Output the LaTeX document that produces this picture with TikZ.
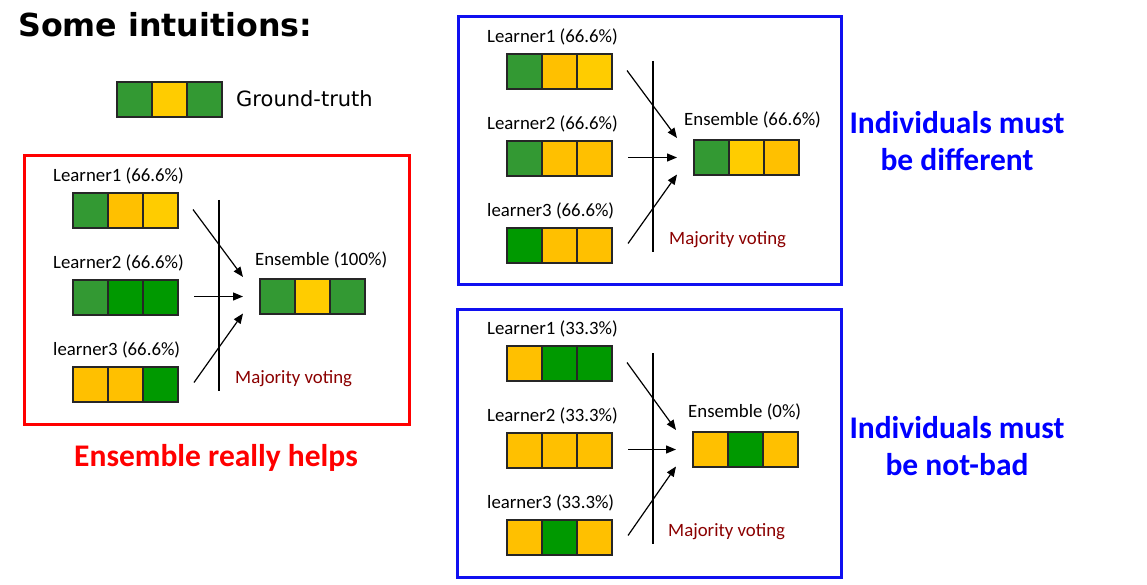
\documentclass[tikz,border=0pt]{standalone}
\usepackage{fontspec}
\setmainfont{Carlito}
\newfontfamily\headfont{DejaVu Sans}
\usetikzlibrary{arrows.meta,calc,positioning}

\definecolor{gtgreen}{HTML}{339933}
\definecolor{puregreen}{HTML}{009900}
\definecolor{amber}{HTML}{FFC000}
\definecolor{gold}{HTML}{FFCC00}
\definecolor{votered}{HTML}{8B0000}
\definecolor{panelblue}{HTML}{1010F0}

\tikzset{
  cell/.style={draw=black!85, line width=1.3pt, minimum size=35pt, inner sep=0pt, outer sep=0pt},
  lab/.style={font=\fontsize{18.8}{20}\selectfont, anchor=west, inner sep=0pt},
  votelab/.style={lab, text=votered},
  vote/.style={-{Triangle[length=10pt,width=8pt]}, line width=1.2pt},
  panel/.style={line width=3pt},
  big/.style={font=\fontsize{31.5}{37}\selectfont\bfseries, align=center, inner sep=0pt},
}

% three cells in a row: name, north west corner, colours
\newcommand{\votebar}[5]{%
  \node[cell, fill=#3, anchor=north west] (#1-1) at #2 {};
  \node[cell, fill=#4, right=0pt of #1-1] (#1-2) {};
  \node[cell, fill=#5, right=0pt of #1-2] (#1-3) {};
}

\begin{document}
\begin{tikzpicture}[x=1pt,y=-1pt]
\useasboundingbox (0,0) rectangle (1147,585);

% title and ground truth
\node[font=\headfont\bfseries\fontsize{31.7}{34}\selectfont, anchor=west, inner sep=0pt] (title) at (18,25) {Some intuitions:};
\votebar{gt}{(117,82)}{gtgreen}{gold}{gtgreen}
\node[font=\headfont\fontsize{21}{24}\selectfont, anchor=west, inner sep=0pt] (gtlab) at (236,99) {Ground-truth};

% left panel
\draw[panel, red] (24,156) rectangle (409,424);
\node[lab] (a-t1) at (53,176) {Learner1 (66.6\%)};
\votebar{a-l1}{(73,193)}{gtgreen}{amber}{gold}
\node[lab] (a-t2) at (53,263) {Learner2 (66.6\%)};
\votebar{a-l2}{(73,280)}{gtgreen}{puregreen}{puregreen}
\node[lab] (a-t3) at (53,350) {learner3 (66.6\%)};
\votebar{a-l3}{(73,367)}{amber}{amber}{puregreen}
\node[lab] (a-te) at (255,260) {Ensemble (100\%)};
\votebar{a-en}{(260,279)}{gtgreen}{gold}{gtgreen}
\draw[line width=1.2pt] (219,200) -- (219,391);
\node[votelab] (a-mv) at (235,379) {Majority voting};
\draw[vote] ($(a-l1-3.east)+(15,-1)$) -- ($(a-en-1.west)+(-17,-19.5)$);
\draw[vote] ($(a-l2-3.east)+(16,-1)$) -- ($(a-en-1.west)+(-17,0)$);
\draw[vote] ($(a-l3-3.east)+(16,-2)$) -- ($(a-en-1.west)+(-17,17)$);
\node[big, text=red] (a-say) at (216,458) {Ensemble really helps};

% top right panel
\begin{scope}[shift={(434,-139)}]
\draw[panel, panelblue] (24,156) rectangle (407,423);
\node[lab] (b-t1) at (53,176) {Learner1 (66.6\%)};
\votebar{b-l1}{(73,193)}{gtgreen}{amber}{gold}
\node[lab] (b-t2) at (53,263) {Learner2 (66.6\%)};
\votebar{b-l2}{(73,280)}{gtgreen}{amber}{amber}
\node[lab] (b-t3) at (53,350) {learner3 (66.6\%)};
\votebar{b-l3}{(73,367)}{puregreen}{amber}{amber}
\node[lab] (b-te) at (250,259) {Ensemble (66.6\%)};
\votebar{b-en}{(260,279)}{gtgreen}{gold}{amber}
\draw[line width=1.2pt] (219,200) -- (219,391);
\node[votelab] (b-mv) at (235,379) {Majority voting};
\draw[vote] ($(b-l1-3.east)+(15,-1)$) -- ($(b-en-1.west)+(-17,-19.5)$);
\draw[vote] ($(b-l2-3.east)+(16,-1)$) -- ($(b-en-1.west)+(-17,0)$);
\draw[vote] ($(b-l3-3.east)+(16,-2)$) -- ($(b-en-1.west)+(-17,17)$);
\end{scope}
\node[big, text=blue] (b-say) at (957,141.5) {Individuals must\\be different};

% bottom right panel
\begin{scope}[shift={(434,153)}]
\draw[panel, panelblue] (23,156) rectangle (407,424);
\node[lab] (c-t1) at (53,176) {Learner1 (33.3\%)};
\votebar{c-l1}{(73,193)}{amber}{puregreen}{puregreen}
\node[lab] (c-t2) at (53,263) {Learner2 (33.3\%)};
\votebar{c-l2}{(73,280)}{amber}{amber}{amber}
\node[lab] (c-t3) at (53,350) {learner3 (33.3\%)};
\votebar{c-l3}{(73,367)}{amber}{puregreen}{amber}
\node[lab] (c-te) at (254,259) {Ensemble (0\%)};
\votebar{c-en}{(259,279)}{amber}{puregreen}{amber}
\draw[line width=1.2pt] (219,200) -- (219,391);
\node[votelab] (c-mv) at (234,379) {Majority voting};
\draw[vote] ($(c-l1-3.east)+(15,-1)$) -- ($(c-en-1.west)+(-17,-19.5)$);
\draw[vote] ($(c-l2-3.east)+(16,-1)$) -- ($(c-en-1.west)+(-17,0)$);
\draw[vote] ($(c-l3-3.east)+(16,-2)$) -- ($(c-en-1.west)+(-17,17)$);
\end{scope}
\node[big, text=blue] (c-say) at (957,446.5) {Individuals must\\be not-bad};
\end{tikzpicture}
\end{document}
